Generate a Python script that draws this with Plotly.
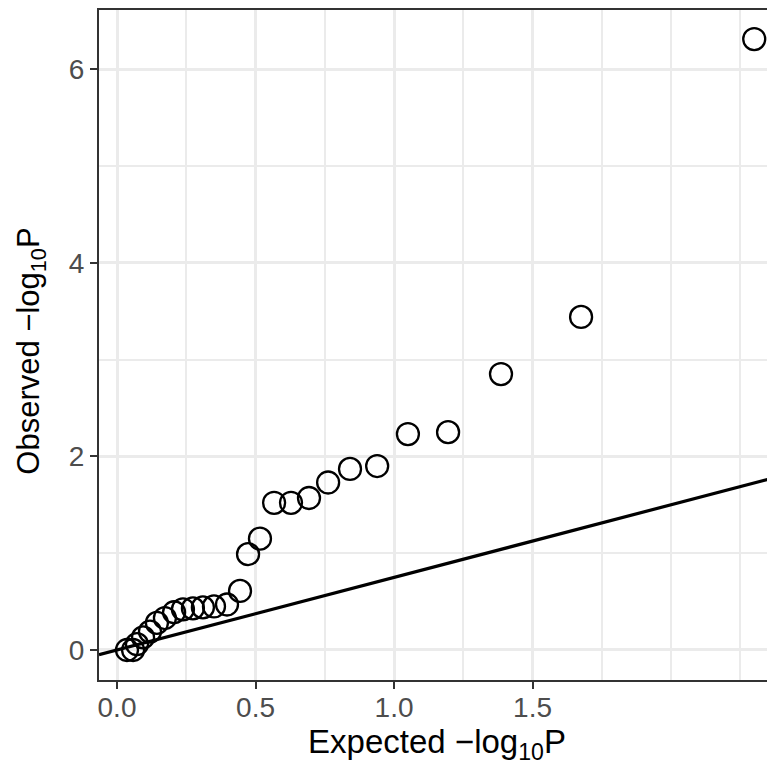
import plotly.graph_objects as go
import numpy as np

# Expected -log10(P) (x) and observed -log10(P) (y)
expected = [0.036, 0.058, 0.072, 0.094, 0.119, 0.144, 0.173, 0.206, 0.238, 0.274,
            0.31, 0.35, 0.397, 0.444, 0.473, 0.516, 0.567, 0.628, 0.693, 0.762,
            0.841, 0.939, 1.05, 1.195, 1.386, 1.675, 2.30]
observed = [0.0, 0.0, 0.06, 0.13, 0.19, 0.28, 0.33, 0.39, 0.42, 0.43,
            0.44, 0.45, 0.47, 0.61, 0.99, 1.15, 1.52, 1.52, 1.57, 1.73,
            1.87, 1.90, 2.23, 2.25, 2.85, 3.44, 6.31]

ref_slope = 0.75
x_range = [-0.065, 2.375]
y_range = [-0.31, 6.61]
x_ticks = [0.0, 0.5, 1.0, 1.5]
x_tick_labels = ["0.0", "0.5", "1.0", "1.5"]
y_ticks = [0, 2, 4, 6]
y_tick_labels = ["0", "2", "4", "6"]
x_title = "Expected −log<sub>10</sub>P"
y_title = "Observed −log<sub>10</sub>P"

line_x = np.array(x_range)
line_y = ref_slope * line_x

fig = go.Figure()
fig.add_trace(go.Scatter(x=line_x, y=line_y, mode="lines",
                         line=dict(color="black", width=3.2), hoverinfo="skip"))
fig.add_trace(go.Scatter(x=expected, y=observed, mode="markers",
                         marker=dict(symbol="circle-open", size=22,
                                     color="black", line=dict(width=2.3, color="black"))))

grid = "#EBEBEB"
fig.update_layout(
    width=767, height=759,
    margin=dict(l=91, r=0, t=0, b=87),
    plot_bgcolor="white", paper_bgcolor="white",
    showlegend=False,
    font=dict(family="Liberation Sans, Arial, sans-serif"),
)
fig.update_xaxes(
    range=x_range, tickvals=x_ticks, ticktext=x_tick_labels,
    showgrid=True, gridcolor=grid, gridwidth=3,
    minor=dict(dtick=0.25, tick0=0, showgrid=True, gridcolor=grid, gridwidth=1.5, ticks=""),
    showline=True, linecolor="#333333", linewidth=2, mirror=True,
    ticks="outside", ticklen=7, tickwidth=2.2, tickcolor="#333333",
    tickfont=dict(size=28, color="#4D4D4D"), ticklabelstandoff=-6,
    zeroline=False,
    title=dict(text=x_title, font=dict(size=33, color="black"), standoff=8),
)
fig.update_yaxes(
    range=y_range, tickvals=y_ticks, ticktext=y_tick_labels,
    showgrid=True, gridcolor=grid, gridwidth=3,
    minor=dict(dtick=1, tick0=0, showgrid=True, gridcolor=grid, gridwidth=1.5, ticks=""),
    showline=True, linecolor="#333333", linewidth=2, mirror=False,
    ticks="outside", ticklen=7, tickwidth=2.2, tickcolor="#333333",
    tickfont=dict(size=28, color="#4D4D4D"),
    zeroline=False,
)
fig.add_annotation(text=y_title, textangle=-90, showarrow=False,
                   xref="paper", yref="paper", x=0, y=0.49,
                   xanchor="center", yanchor="middle", xshift=-68,
                   font=dict(size=31, color="black"))

fig.write_html("out.html")
